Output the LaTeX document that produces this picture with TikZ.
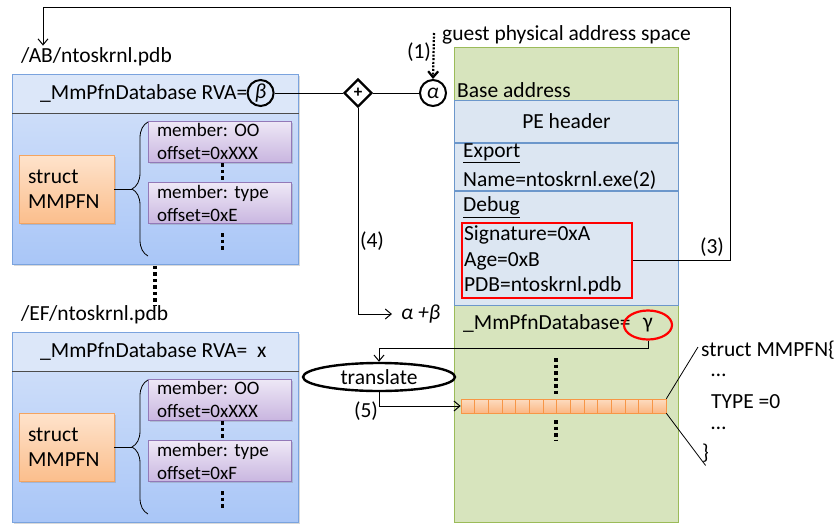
\documentclass[tikz,border=0pt]{standalone}
\usepackage{fontspec}
\setmainfont{Carlito}
\usepackage{xcolor}
\usepackage{tikz}
\usetikzlibrary{shapes.geometric,arrows.meta,positioning,calc,decorations.pathreplacing,shadows}
\frenchspacing
\definecolor{pdbline}{HTML}{7AA3DE}
\definecolor{pdbhead}{HTML}{DCE7F9}
\definecolor{pdbtop}{HTML}{D6E3FA}
\definecolor{pdbbot}{HTML}{A9C6F7}
\definecolor{stline}{HTML}{F4A460}
\definecolor{sttop}{HTML}{FEE3CC}
\definecolor{stbot}{HTML}{FBBE8C}
\definecolor{mbline}{HTML}{9379B8}
\definecolor{mbtop}{HTML}{EEE8F6}
\definecolor{mbbot}{HTML}{C9B6E0}
\definecolor{gpafill}{HTML}{D7E4BD}
\definecolor{gpaline}{HTML}{9BBB59}
\definecolor{pefill}{HTML}{DCE6F2}
\definecolor{peline}{HTML}{6C97CB}
\definecolor{celltop}{HTML}{FDDCC0}
\definecolor{cellbot}{HTML}{FBB784}
\definecolor{cellline}{HTML}{F79646}
\newcommand{\gk}[1]{{\itshape #1}}
\tikzset{
  pdbbox/.style={rectangle, draw=pdbline, line width=0.8pt, top color=pdbtop, bottom color=pdbbot,
                 minimum width=286pt, anchor=north west, inner sep=0pt,
                 drop shadow={shadow xshift=1.5pt, shadow yshift=-1.5pt, opacity=0.3}},
  pdbhdr/.style={rectangle, draw=pdbline, line width=0.8pt, fill=pdbhead, minimum width=286pt,
                 minimum height=39pt, anchor=north west, inner sep=0pt},
  stbox/.style={rectangle, draw=stline, line width=0.8pt, top color=sttop, bottom color=stbot,
                minimum width=95pt, minimum height=68pt, text width=77pt, align=left,
                inner xsep=9pt, inner ysep=0pt,
                drop shadow={shadow xshift=1.5pt, shadow yshift=-1.5pt, opacity=0.3}},
  mbbox/.style={rectangle, draw=mbline, line width=0.8pt, top color=mbtop, bottom color=mbbot,
                minimum width=143pt, minimum height=41pt, text width=125pt, align=left,
                inner xsep=9pt, inner ysep=0pt, font=\fontsize{19}{23}\selectfont,
                drop shadow={shadow xshift=1.5pt, shadow yshift=-1.5pt, opacity=0.3}},
  pebox/.style={rectangle, draw=peline, line width=0.8pt, fill=pefill, minimum width=224pt,
                inner sep=0pt},
  cell/.style={rectangle, draw=cellline, line width=0.6pt, top color=celltop, bottom color=cellbot,
               minimum width=13.67pt, minimum height=14pt, inner sep=0pt},
  varc/.style={circle, draw, line width=2pt, minimum size=26pt, inner sep=0pt},
  ar/.style={-{Straight Barb[length=6pt,width=10pt]}, line width=1pt},
  vdots/.style={line width=3.5pt, dash pattern=on 3.5pt off 3pt}
}
\begin{document}
\begin{tikzpicture}[x=1pt, y=-1pt, inner sep=2pt,
  font=\fontsize{21.5}{25}\selectfont,
  dotar/.style={-{Straight Barb[length=6pt,width=10pt]}, line width=2.2pt, dash pattern=on 2pt off 1.6pt},
  redell/.style={ellipse, draw=red, line width=2.2pt, minimum width=48pt, minimum height=29pt, inner sep=0pt},
  deftxt/.style={anchor=west, inner sep=0pt}
]
\useasboundingbox (0,0) rectangle (838,525);
% ---- PDB file /AB ----
\node[anchor=west] (pathA) at (19,57) {/AB/ntoskrnl.pdb};
\node[pdbbox, minimum height=190pt] (pdbA) at (12,74) {};
\node[pdbhdr] (hdrA) at (12,74) {};
\draw[black!70, line width=0.9pt] (hdrA.south west) -- (hdrA.south east);
\node[anchor=west] (rvaA) at (38,93) {\_MmPfnDatabase RVA=};
\node[varc, right=-3pt of rvaA] (beta) {\gk{β}};
\node[stbox] (stA) at (66.5,189) {struct\\MMPFN};
\node[mbbox] (mA1) at (219.5,141.5) {member: OO\\offset=0xXXX};
\node[mbbox, below=20pt of mA1] (mA2) {member: type\\offset=0xE};
\draw[decorate, decoration={brace, amplitude=16pt}, line width=0.8pt] (148,256) -- (148,122);
\coordinate (tipA) at (132,189);
\draw[line width=0.8pt] (stA.east) -- (tipA);
\draw[vdots] ($(mA1.south)+(3,1)$) -- (mA2.north -| 222.5,0);
\draw[vdots] ($(mA2.south)+(3,9)$) -- ++(0,17);
% ---- PDB file /EF ----
\draw[vdots] ($(pdbA.south west)+(143,1)$) -- ++(0,40);
\node[anchor=west] (pathB) at (19,315) {/EF/ntoskrnl.pdb};
\node[pdbbox, minimum height=190pt] (pdbB) at (12,332) {};
\node[pdbhdr] (hdrB) at (12,332) {};
\draw[black!70, line width=0.9pt] (hdrB.south west) -- (hdrB.south east);
\node[anchor=west] (rvaB) at (38,351) {\_MmPfnDatabase RVA=\ \ x};
\node[stbox] (stB) at (66.5,447) {struct\\MMPFN};
\node[mbbox] (mB1) at (219.5,399.5) {member: OO\\offset=0xXXX};
\node[mbbox, below=20pt of mB1] (mB2) {member: type\\offset=0xF};
\draw[decorate, decoration={brace, amplitude=16pt}, line width=0.8pt] (148,514) -- (148,380);
\coordinate (tipB) at (132,447);
\draw[line width=0.8pt] (stB.east) -- (tipB);
\draw[vdots] ($(mB1.south)+(3,1)$) -- (mB2.north -| 222.5,0);
\draw[vdots] ($(mB2.south)+(3,9)$) -- ++(0,17);
% ---- guest physical address space ----
\node[anchor=west] (gpaT) at (440,35) {guest physical address space};
\node[rectangle, draw=gpaline, line width=0.8pt, fill=gpafill, anchor=north west,
      minimum width=224pt, minimum height=475pt, inner sep=0pt] (gpa) at (454,47) {};
\node[anchor=west] (baseT) at (455,90) {Base address};
\node[pebox, anchor=north west, minimum height=42pt] (peHdr) at (454,100) {PE header};
\node[pebox, below=0pt of peHdr, minimum height=47pt] (peExp) {};
\node[pebox, below=0pt of peExp, minimum height=114pt] (peDbg) {};
\node[anchor=west] (expT) at (461,153) {\underline{Export}};
\node[anchor=west] (nameT) at (461,180) {Name=ntoskrnl.exe(2)};
\node[anchor=west] (dbgT) at (461,207) {\underline{Debug}};
\node[rectangle, draw=red, line width=2.2pt, anchor=north west, minimum width=170pt,
      minimum height=75pt, text width=166pt, align=left, inner xsep=2pt, inner ysep=0pt,
      font=\fontsize{21.5}{25.5}\selectfont] (sig) at (461,222)
      {Signature=0xA\\Age=0xB\\PDB=ntoskrnl.pdb};
\node[anchor=west] (mmT) at (461,323) {\_MmPfnDatabase=};
\node[redell] (gam) at (648,325) {γ};
\draw[vdots] (556,358) -- (556,394);
\draw[vdots] (556,420) -- (556,440);
% ---- MMPFN array ----
\foreach \i in {1,...,15}
  \node[cell] (c\i) at ({461+(\i-0.5)*13.67},406) {};
\node[deftxt] (mmHead) at (701,350) {struct MMPFN\{};
\node[deftxt] (mmD1) at (711,375) {…};
\node[deftxt] (mmType) at (711,402) {TYPE =0};
\node[deftxt] (mmD2) at (711,428) {…};
\node[deftxt] (mmTail) at (702,453) {\}};
\draw[line width=0.8pt] (c15.north east) -- ($(mmHead.west)+(-3,-3)$);
\draw[line width=0.8pt] (c15.south east) -- ($(mmTail.south)+(0,3)$);
% ---- address computation ----
\node[diamond, draw, line width=2.4pt, minimum width=28pt, minimum height=28pt, inner sep=0pt,
      font=\fontsize{17}{17}\selectfont\bfseries] (plus) at (358,93) {+};
\node[varc] (alpha) at (433,93) {\gk{α}};
\draw[line width=1pt] (beta) -- (plus);
\draw[line width=1pt] (plus) -- (alpha);
\coordinate (gpaIn) at (434,33);
\draw[dotar] (gpaIn) -- (alpha.north);
\node (lbl1) at (419,52) {(1)};
\node[anchor=west, inner xsep=9pt] (sum) at (392,314) {\gk{α +β}};
\draw[ar] (plus.south) |- (sum.west);
\node (lbl4) at (372,241) {(4)};
% ---- pdb lookup loop ----
\coordinate (loopR) at (730,7);
\coordinate (loopL) at (43,7);
\draw[ar] (sig.east) -| (loopR) -- (loopL) -- (loopL |- pathA.north);
\node (lbl3) at (712,247) {(3)};
% ---- translate ----
\node[ellipse, draw, line width=2.4pt, minimum width=152pt, minimum height=28pt, inner sep=0pt]
      (trans) at (379,377) {translate};
\coordinate (bendG) at (648,348);
\draw[ar] (gam.south) -- (bendG) -| (trans.north);
\draw[ar] (trans.south) |- (c1.west);
\node (lbl5) at (366,411) {(5)};
\end{tikzpicture}
\end{document}
